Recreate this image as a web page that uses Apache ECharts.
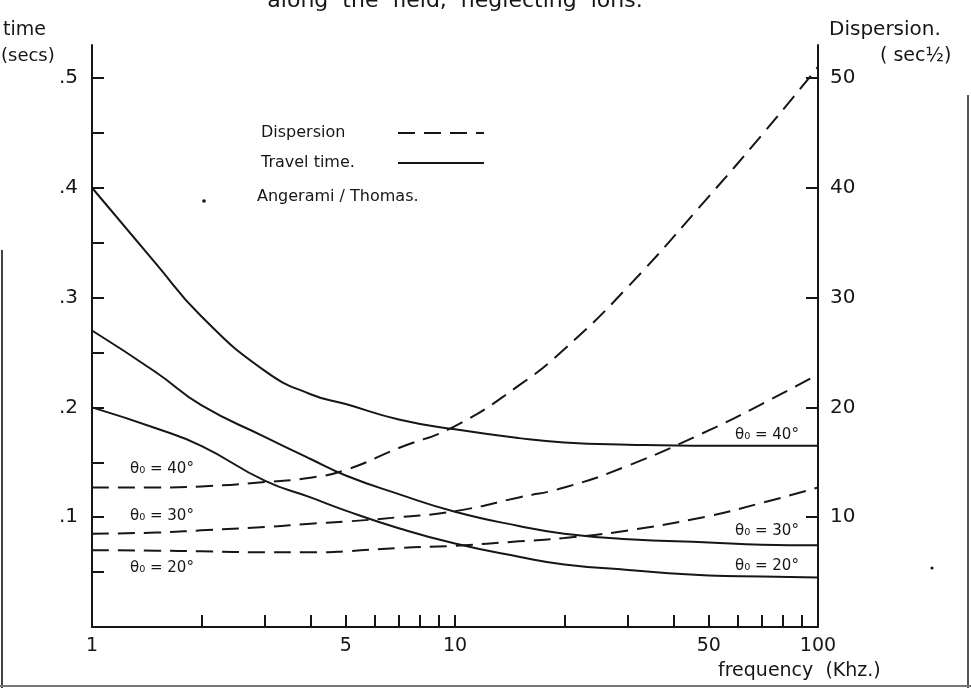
<!DOCTYPE html>
<html>
<head>
<meta charset="utf-8">
<script src="https://cdn.jsdelivr.net/npm/echarts@6/dist/echarts.min.js"></script>
<style>
  html, body { margin: 0; padding: 0; background: #fff; }
  #chart { width: 971px; height: 688px; }
</style>
</head>
<body>
<div id="chart"></div>
<script>
// frequency (kHz) sample points shared by all curves
const freqs = [1, 1.5, 2, 3, 4, 5, 7, 10, 15, 20, 30, 50, 70, 100]

// travel time (secs), left axis
const time40 = [0.40, 0.331, 0.283, 0.233, 0.212, 0.203, 0.189, 0.180, 0.172, 0.168, 0.166, 0.165, 0.165, 0.165]
const time30 = [0.27, 0.232, 0.202, 0.173, 0.153, 0.138, 0.121, 0.105, 0.092, 0.085, 0.080, 0.077, 0.075, 0.0745]
const time20 = [0.20, 0.181, 0.165, 0.133, 0.118, 0.106, 0.090, 0.076, 0.064, 0.057, 0.052, 0.047, 0.046, 0.045]

// dispersion (sec^1/2), right axis
const disp40 = [12.7, 12.7, 12.8, 13.2, 13.6, 14.3, 16.3, 18.3, 22.0, 25.3, 31.0, 39.2, 44.8, 51.0]
const disp30 = [8.5, 8.6, 8.8, 9.1, 9.4, 9.6, 10.0, 10.55, 11.8, 12.7, 14.7, 17.9, 20.3, 23.0]
const disp20 = [7.0, 6.95, 6.9, 6.8, 6.8, 6.9, 7.2, 7.4, 7.8, 8.1, 8.8, 10.1, 11.3, 12.7]

// axis ticks and labels
const freqLabels = [1, 5, 10, 50, 100]
const freqTicks = [2, 3, 4, 5, 6, 7, 8, 9, 10, 20, 30, 40, 50, 60, 70, 80, 90]
const timeLabels = [0.1, 0.2, 0.3, 0.4, 0.5]
const timeTicks = [0.05, 0.1, 0.15, 0.2, 0.25, 0.3, 0.35, 0.4, 0.45, 0.5]
const dispLabels = [10, 20, 30, 40, 50]

const FONT = '"DejaVu Sans", sans-serif'
const INK = '#161616'

{
    let view = document.getElementById('chart')
    let pair = ys => freqs.map((f, i) => [f, ys[i]])

    let curve = (name, axis, dash, data) => ({
        name: name,
        type: 'line',
        yAxisIndex: axis,
        smooth: 0.5,
        symbol: 'none',
        lineStyle: { color: INK, width: 2, type: dash },
        itemStyle: { color: INK },
        data: pair(data),
    })
    let text = (str, x, y, size, extra) => ({
        type: 'text',
        x: x, y: y,
        style: Object.assign({ text: str, font: size + 'px ' + FONT, fill: INK, verticalAlign: 'middle' }, extra || {}),
    })

    let myChart = echarts.init(view)
    let option = {
        animation: false,
        backgroundColor: '#fff',
        grid: { left: 92, right: 153, top: 45, bottom: 61 },
        legend: {
            data: ['Dispersion', 'Travel time.'],
            orient: 'vertical',
            left: 256,
            top: 120,
            align: 'right',
            itemGap: 14,
            itemWidth: 86,
            itemHeight: 12,
            selectedMode: false,
            itemStyle: { opacity: 0 },
            formatter: name => '{a|' + name + '}',
            textStyle: {
                rich: { a: { width: 132, align: 'left', fontFamily: FONT, fontSize: 16, color: INK } },
            },
        },
        xAxis: {
            type: 'log',
            logBase: 10,
            min: 1,
            max: 100,
            axisLine: { lineStyle: { color: INK, width: 2 } },
            axisTick: { inside: true, length: 12, customValues: freqTicks, lineStyle: { color: INK, width: 2 } },
            axisLabel: { customValues: freqLabels, margin: 10, fontFamily: FONT, fontSize: 19, color: INK },
            splitLine: { show: false },
            minorTick: { show: false },
        },
        yAxis: [{
            type: 'value',
            min: 0,
            max: 0.53,
            position: 'left',
            axisLine: { show: true, lineStyle: { color: INK, width: 2 } },
            axisTick: { show: true, inside: true, length: 12, customValues: timeTicks, lineStyle: { color: INK, width: 2 } },
            axisLabel: {
                customValues: timeLabels, margin: 14, fontFamily: FONT, fontSize: 20, color: INK,
                formatter: v => String(+v.toFixed(1)).replace('0.', '.'),
            },
            splitLine: { show: false },
        }, {
            type: 'value',
            min: 0,
            max: 53,
            position: 'right',
            axisLine: { show: true, lineStyle: { color: INK, width: 2 } },
            axisTick: { show: true, inside: true, length: 12, customValues: dispLabels, lineStyle: { color: INK, width: 2 } },
            axisLabel: { customValues: dispLabels, margin: 12, fontFamily: FONT, fontSize: 20, color: INK },
            splitLine: { show: false },
        }],
        series: [
            curve('Travel time.', 0, 'solid', time40),
            curve('Travel time.', 0, 'solid', time30),
            curve('Travel time.', 0, 'solid', time20),
            curve('Dispersion', 1, [17, 9], disp40),
            curve('Dispersion', 1, [17, 9], disp30),
            curve('Dispersion', 1, [17, 9], disp20),
        ],
        graphic: [
            text('along  the  field,  neglecting  ions.', 455, 1, 22, { align: 'center' }),
            text('time', 3, 30, 19),
            text('(secs)', 1, 56, 18),
            text('Dispersion.', 829, 30, 20),
            text('( sec½)', 880, 56, 19),
            text('frequency  (Khz.)', 718, 671, 19),
            text('Angerami / Thomas.', 257, 197, 16),
            { type: 'circle', shape: { cx: 204, cy: 201, r: 1.8 }, style: { fill: INK } },
            { type: 'circle', shape: { cx: 932, cy: 568, r: 1.6 }, style: { fill: INK } },
            text('θ₀ = 40°', 130, 469, 15),
            text('θ₀ = 30°', 130, 516, 15),
            text('θ₀ = 20°', 130, 568, 15),
            text('θ₀ = 40°', 735, 435, 15),
            text('θ₀ = 30°', 735, 531, 15),
            text('θ₀ = 20°', 735, 566, 15),
            // scan frame edges
            { type: 'line', shape: { x1: 2, y1: 250, x2: 2, y2: 688 }, style: { stroke: '#444', lineWidth: 2 } },
            { type: 'line', shape: { x1: 968, y1: 95, x2: 968, y2: 688 }, style: { stroke: '#555', lineWidth: 2 } },
            { type: 'line', shape: { x1: 0, y1: 686, x2: 971, y2: 686 }, style: { stroke: '#777', lineWidth: 2 } },
        ],
    }
    myChart.setOption(option)
}
</script>
</body>
</html>
